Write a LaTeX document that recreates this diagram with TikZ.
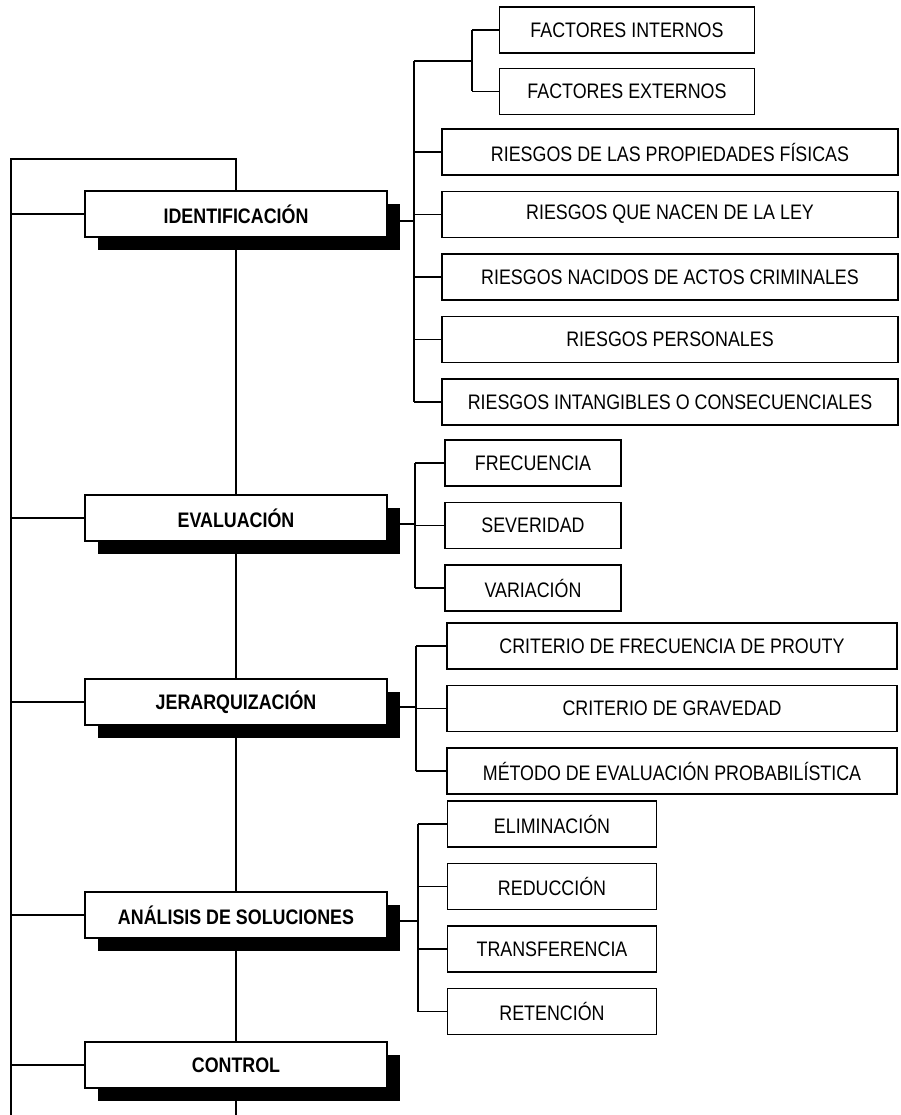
\documentclass[tikz,border=0pt]{standalone}
\usepackage{fontspec}
\setmainfont{Liberation Sans}[FakeStretch=0.85]
\usepackage{tikz}
\usetikzlibrary{positioning,calc,shadows}
\tikzset{
  rbox/.style={draw=black,fill=white,line width=1.5pt,align=center,inner sep=2pt,
    minimum height=46pt,font=\fontsize{21}{24}\selectfont},
  rmain/.style={rbox,minimum width=302pt,font=\fontsize{21}{24}\selectfont\bfseries,
    general shadow={fill=black,shadow xshift=13pt,shadow yshift=-13pt}},
  rline/.style={line width=1.6pt,black}
}

\begin{document}
\begin{tikzpicture}[x=1pt,y=-1pt]
  \tikzset{
    factor/.style={rbox,minimum width=255pt},
    riesgo/.style={rbox,minimum width=456pt},
    evalitem/.style={rbox,minimum width=176pt},
    crititem/.style={rbox,minimum width=450pt},
    solitem/.style={rbox,minimum width=209pt}
  }
  \useasboundingbox (0,0) rectangle (901,1115);

  \node[rmain] (ident) at (236,214) {IDENTIFICACIÓN};
  \node[rmain] (eval) at (236,518) {EVALUACIÓN};
  \node[rmain] (jerar) at (236,702) {JERARQUIZACIÓN};
  \node[rmain] (anal) at (236,915) {ANÁLISIS DE SOLUCIONES};
  \node[rmain] (control) at (236,1065) {CONTROL};

  \node[factor] (fint) at (627,30) {FACTORES INTERNOS};
  \node[factor,below=14pt of fint] (fext) {FACTORES EXTERNOS};
  \node[riesgo] (rfis) at (670,152) {RIESGOS DE LAS PROPIEDADES FÍSICAS};
  \node[riesgo,below=15pt of rfis] (rley) {RIESGOS QUE NACEN DE LA LEY};
  \node[riesgo,below=15pt of rley] (rcrim) {RIESGOS NACIDOS DE ACTOS CRIMINALES};
  \node[riesgo,below=15pt of rcrim] (rpers) {RIESGOS PERSONALES};
  \node[riesgo,below=15pt of rpers] (rint) {RIESGOS INTANGIBLES O CONSECUENCIALES};

  \node[evalitem] (frec) at (533,463) {FRECUENCIA};
  \node[evalitem,below=15pt of frec] (sev) {SEVERIDAD};
  \node[evalitem,below=15pt of sev] (var) {VARIACIÓN};

  \node[crititem] (prouty) at (672,646) {CRITERIO DE FRECUENCIA DE PROUTY};
  \node[crititem,below=15pt of prouty] (grav) {CRITERIO DE GRAVEDAD};
  \node[crititem,below=15pt of grav] (metodo) {MÉTODO DE EVALUACIÓN PROBABILÍSTICA};

  \node[solitem] (elim) at (552,824) {ELIMINACIÓN};
  \node[solitem,below=15pt of elim] (reduc) {REDUCCIÓN};
  \node[solitem,below=15pt of reduc] (transf) {TRANSFERENCIA};
  \node[solitem,below=15pt of transf] (reten) {RETENCIÓN};

  \coordinate (spinetop) at (11,159);
  \coordinate (spinebot) at (11,1115);
  \coordinate (axisbot) at (236,1115);
  \coordinate (ibr) at (414,0);
  \coordinate (fbr) at (472,0);
  \coordinate (ebr) at (415,0);
  \coordinate (jbr) at (416,0);
  \coordinate (abr) at (418,0);
  \coordinate (fjoin) at ($(fint.west)!0.5!(fext.west)$);
  \coordinate (iexit) at ([yshift=-7pt]ident.east);
  \coordinate (eexit) at ([yshift=-6pt]eval.east);
  \coordinate (jexit) at ([yshift=-5pt]jerar.east);
  \coordinate (aexit) at ([yshift=-6pt]anal.east);

  \draw[rline] (spinebot) -- (spinetop) -| (ident.north);
  \draw[rline] (ident) -- (eval);
  \draw[rline] (eval) -- (jerar);
  \draw[rline] (jerar) -- (anal);
  \draw[rline] (anal) -- (control);
  \draw[rline] (control) -- (axisbot);
  \foreach \n in {ident,eval,jerar,anal,control}
    \draw[rline] (spinetop |- \n.west) -- (\n.west);

  \draw[rline] (iexit) -- (iexit -| ibr);
  \draw[rline] (ibr |- fjoin) -- (ibr |- rint.west);
  \draw[rline] (ibr |- fjoin) -- (fbr |- fjoin);
  \draw[rline] (fbr |- fint.west) -- (fbr |- fext.west);
  \foreach \n in {fint,fext}
    \draw[rline] (fbr |- \n.west) -- (\n.west);
  \foreach \n in {rfis,rley,rcrim,rpers,rint}
    \draw[rline] (ibr |- \n.west) -- (\n.west);

  \draw[rline] (eexit) -- (eexit -| ebr);
  \draw[rline] (ebr |- frec.west) -- (ebr |- var.west);
  \foreach \n in {frec,sev,var}
    \draw[rline] (ebr |- \n.west) -- (\n.west);

  \draw[rline] (jexit) -- (jexit -| jbr);
  \draw[rline] (jbr |- prouty.west) -- (jbr |- metodo.west);
  \foreach \n in {prouty,grav,metodo}
    \draw[rline] (jbr |- \n.west) -- (\n.west);

  \draw[rline] (aexit) -- (aexit -| abr);
  \draw[rline] (abr |- elim.west) -- (abr |- reten.west);
  \foreach \n in {elim,reduc,transf,reten}
    \draw[rline] (abr |- \n.west) -- (\n.west);
\end{tikzpicture}
\end{document}
